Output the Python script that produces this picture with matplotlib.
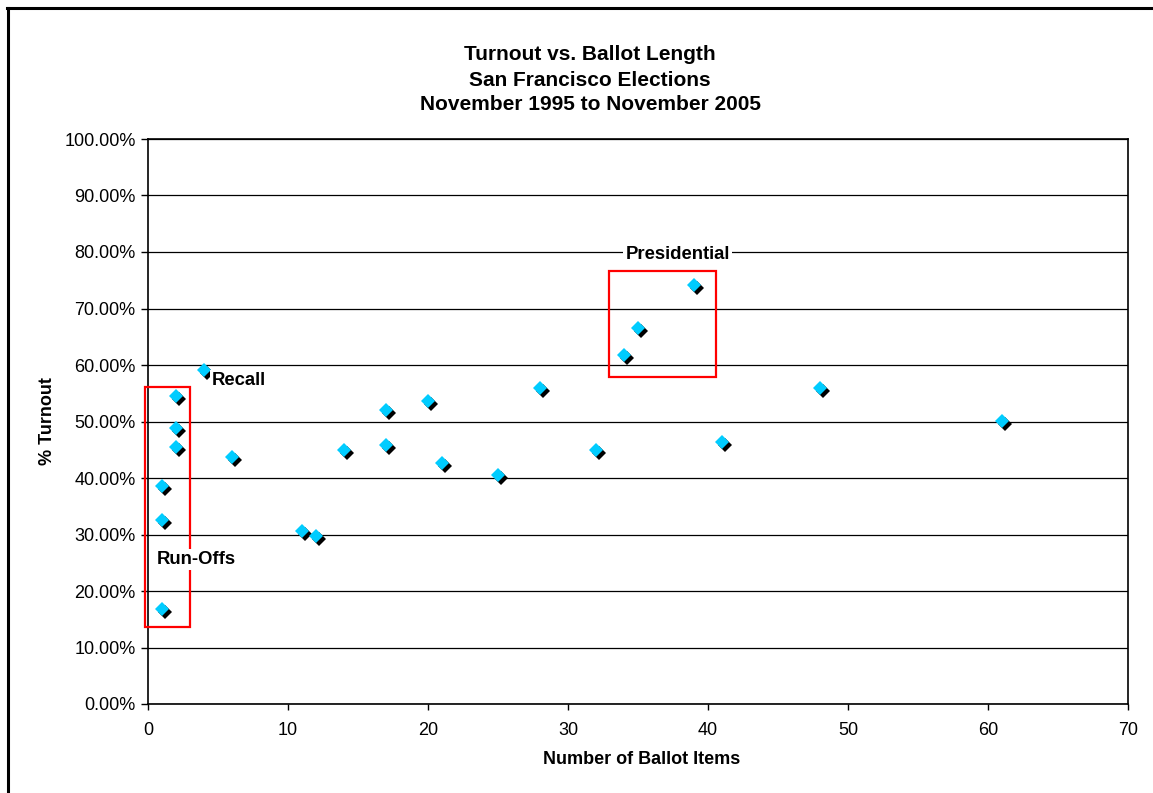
import matplotlib
matplotlib.use("Agg")
import matplotlib.pyplot as plt
from matplotlib.transforms import offset_copy
from matplotlib.patches import Rectangle
from matplotlib.lines import Line2D
from matplotlib.ticker import FuncFormatter, MultipleLocator

plt.rcParams['font.family'] = ['Liberation Sans', 'DejaVu Sans']

ballot_items = [1, 1, 1, 2, 2, 2, 4, 6, 11, 12, 14, 17, 17, 20, 21, 25, 28, 32, 34, 35, 39, 41, 48, 61]
turnout = [38.5, 32.6, 16.8, 54.5, 48.8, 45.5, 59.1, 43.8, 30.6, 29.8, 45.0, 52.0, 45.8, 53.7,
           42.6, 40.5, 56.0, 45.0, 61.8, 66.5, 74.2, 46.3, 56.0, 50.1]

title_lines = ["Turnout vs. Ballot Length", "San Francisco Elections", "November 1995 to November 2005"]
x_label = "Number of Ballot Items"
y_label = "% Turnout"

W, H = 1153, 793
fig = plt.figure(figsize=(W / 100, H / 100), dpi=100)
fig.patch.set_facecolor('white')

def fx(px):
    return px / W

def fy(py):
    return 1 - py / H

ax = fig.add_axes([fx(148), fy(704), fx(1128) - fx(148), fy(139) - fy(704)])
ax.set_xlim(0, 70)
ax.set_ylim(0, 100)
ax.xaxis.set_major_locator(MultipleLocator(10))
ax.yaxis.set_major_locator(MultipleLocator(10))
ax.yaxis.set_major_formatter(FuncFormatter(lambda v, p: f"{v:.2f}%"))
ax.grid(axis='y', color='black', linewidth=0.9, zorder=1)
ax.set_axisbelow(True)
for s in ax.spines.values():
    s.set_color('black')
    s.set_linewidth(1.2)
ax.tick_params(axis='y', direction='out', length=5, width=1, pad=4, labelsize=13, colors='black')
ax.tick_params(axis='x', direction='out', length=4, width=1, pad=9, labelsize=13, colors='black')

# shadow then marker
shadow = offset_copy(ax.transData, fig=fig, x=3, y=-3, units='dots')
ax.plot(ballot_items, turnout, linestyle='none', marker='D', markersize=7.4,
        markeredgewidth=0, color='black', transform=shadow, zorder=3)
ax.plot(ballot_items, turnout, linestyle='none', marker='D', markersize=7.4,
        markeredgewidth=0, color='#00CCFF', zorder=4)

# annotation boxes
ax.add_patch(Rectangle((-0.2, 13.6), 3.2, 42.5, fill=False, edgecolor='#FF0000',
                       linewidth=1.6, clip_on=False, zorder=5))
ax.add_patch(Rectangle((32.9, 57.9), 7.7, 18.7, fill=False, edgecolor='#FF0000',
                       linewidth=1.6, clip_on=False, zorder=5))

lab_kw = dict(fontsize=13.3, fontweight='bold', va='center', ha='left', zorder=6,
              bbox=dict(facecolor='white', edgecolor='none', pad=1.5))
ax.text(4.55, 57.3, "Recall", **lab_kw)
ax.text(0.64, 25.5, "Run-Offs", **lab_kw)
ax.text(34.1, 79.5, "Presidential", **lab_kw)

# titles
for i, t in enumerate(title_lines):
    fig.text(fx(590), fy(55 + 25 * i), t, ha='center', va='center', fontsize=15, fontweight='bold')

fig.text(fx(642), fy(760), x_label, ha='center', va='center', fontsize=13, fontweight='bold')
fig.text(fx(47), fy(421), y_label, ha='center', va='center', rotation=90, fontsize=13, fontweight='bold')

# chart-area border (left and top visible)
fig.add_artist(Line2D([fx(8), fx(8)], [fy(8), 0], color='black', linewidth=2.2, transform=fig.transFigure))
fig.add_artist(Line2D([fx(7), 1], [fy(8), fy(8)], color='black', linewidth=2.2, transform=fig.transFigure))

fig.savefig("out.png", dpi=100)
